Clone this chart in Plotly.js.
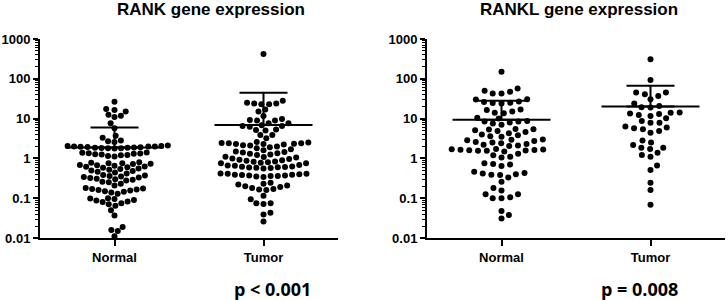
<!DOCTYPE html>
<html><head><meta charset="utf-8">
<script src="https://cdn.plot.ly/plotly-3.0.1.min.js"></script>
<style>html,body{margin:0;padding:0;background:#fff}#c{width:728px;height:300px}</style>
</head><body><div id="c"></div>
<script>
const categories = ['Normal', 'Tumor'];
const titles = ['RANK gene expression', 'RANKL gene expression'];
const pTexts = ['p < 0.001', 'p = 0.008'];
const yTickVals = [0.01, 0.1, 1, 10, 100, 1000];
const yTickText = ['0.01', '0.1', '1', '10', '100', '1000'];

const rankNormal = [26.5,17.5,16.5,15,12.5,11.8,11, 7.6,5.7, 3.7,3.3,2.8,2.7,2.6,2.1,
  2.05,2.05,2.0,2.0,1.98,1.95,1.92,1.9,1.88,1.85,1.85,1.82,1.8,1.8,1.78,
  1.4,1.38,1.35,1.32,1.3,1.28,1.25,1.22,1.2,1.15,1.12,
  0.8,0.78,0.76,0.75,0.73,0.72,
  0.68,0.67,0.65,0.63,0.62,0.6,0.58,0.56,0.54,0.52,0.5,0.48,0.46,0.44,0.42,
  0.38,0.37,0.36,0.35,0.34,0.33,0.32,0.31,0.3,0.29,0.28,0.26,0.25,0.23,0.21,
  0.18,0.175,0.17,0.165,0.16,0.155,0.15,0.145,0.14,0.13,
  0.1,0.098,0.095,0.09,0.087,0.083,0.08,0.075,0.07,
  0.065,0.05,0.037,0.019,0.016,0.015,0.011];
const rankTumor = [420, 28,25,24,24,23,23, 17,15, 11.6,9.8,9.2,9.0,8.9,
  7.6,7.6,6.8,6.5,6.5,6.2,5.3,5.2,5.0, 3.9,3.9,3.2,
  2.6,2.5,2.45,2.4,2.4,2.35,2.3,2.3,2.25,
  2.15,2.1,2.0,1.9,1.8,1.7,1.6,1.5,1.45,1.4,1.35,1.3,1.25,1.22,
  1.1,1.08,1.05,1.0,0.97,0.93,0.9,0.87,0.84,0.82,0.8,0.78,0.76,0.75,
  0.68,0.66,0.65,0.63,0.62,0.61,0.6,0.59,0.58,0.57,0.56,
  0.42,0.41,0.41,0.4,0.39,0.39,0.38,0.37,0.37,0.36,0.36,0.35,0.34,
  0.245,0.23,0.22,0.21,0.2,0.19,0.18,0.17,0.165,0.16,
  0.115, 0.094,0.075,0.072,0.075, 0.043,0.039, 0.026];
const ranklNormal = [151, 57,50,47,43,43, 30.6,30,27,26,25,24.5,24, 17,16.4,15,14,13.6,
  10.5,10,8.7,8.5,8.5,8,7.5,7,
  5.5,5.4,5.3,5.1,4.9,4.6,4.3,4.0,3.8,3.6,3.5,
  3.0,2.95,2.85,2.75,2.6,2.5,2.4,2.3,2.2,2.1,2.05,
  1.72,1.7,1.68,1.65,1.62,1.6,1.58,1.56,1.55,1.5,
  1.3,1.2,1.1,1.05, 0.75,0.72,0.7,0.64,
  0.46,0.43,0.42,0.4,0.39,0.38, 0.33,0.26,
  0.18,0.155,0.125,0.125,0.105,0.1,0.1, 0.048,0.038,0.031];
const ranklTumor = [309, 93, 45,41,37,45, 30.6,24, 19.2,19,20.7,
  13,11.6,12.4,13.5,14.3,14.1, 8.7,7.9,7.9,10.2,
  6.3,5.7,4.9,4.4,5.4,6.0, 2.8,2.17,2.5, 1.86,1.72,1.86,1.39,
  1.22,1.1, 0.66,0.51, 0.245,0.16, 0.068];

const rankMean = [1.88, 6.9];
const rankSD = [4.1, 38];
const ranklMean = [9.4, 20];
const ranklSD = [18.6, 47];

// ---- layout geometry ----
const W = 728, H = 300;
const xd1 = [40 / W, 338 / W], xd2 = [427 / W, 725 / W];
const yd = [62 / H, 261 / H];
const pxPerUnit = (xd1[1] - xd1[0]) * W / 2;
const pxPerDecade = (yd[1] - yd[0]) * H / 5;

// point-swarm layout: horizontal spacing Dx, vertical clearance Dy (pixels)
function swarm(vals, Dx, Dy) {
  const idx = vals.map((v, i) => i).sort((a, b) => vals[a] - vals[b]);
  const placed = [], xs = new Array(vals.length);
  let toggle = 1;
  for (const i of idx) {
    const y = Math.log10(vals[i]) * pxPerDecade;
    const near = placed.filter(p => Math.abs(p.y - y) < Dy);
    const cands = [0];
    for (const p of near) {
      const dx = Dx * Math.sqrt(1 - ((p.y - y) / Dy) ** 2);
      cands.push(p.x - dx, p.x + dx);
    }
    const ok = c => near.every(p => ((c - p.x) / Dx) ** 2 + ((p.y - y) / Dy) ** 2 >= 1 - 1e-6);
    let best = null;
    for (const c of cands) {
      if (!ok(c)) continue;
      if (best === null || Math.abs(c) < Math.abs(best) - 1e-6) best = c;
      else if (Math.abs(Math.abs(c) - Math.abs(best)) < 1e-6 && Math.sign(c) === toggle) best = c;
    }
    if (best !== 0) toggle = -Math.sign(best);
    placed.push({ x: best, y });
    xs[i] = best;
  }
  return xs;
}

function dots(vals, cat, Dx, Dy, xa, ya) {
  const off = swarm(vals, Dx, Dy);
  return {
    type: 'scatter', mode: 'markers', xaxis: xa, yaxis: ya,
    x: off.map(o => cat + o / pxPerUnit), y: vals,
    marker: { size: 6, color: '#000' }, hoverinfo: 'y', showlegend: false
  };
}
function meanBars(means, sds, xa, ya) {
  return {
    type: 'scatter', mode: 'markers', xaxis: xa, yaxis: ya,
    x: categories.map((c, i) => i), y: means,
    marker: { symbol: 'line-ew', size: 70, color: '#000', line: { width: 2, color: '#000' } },
    error_y: { type: 'data', symmetric: false, array: sds, arrayminus: means.map(() => 0),
      color: '#000', thickness: 2, width: 24 },
    showlegend: false, hoverinfo: 'y'
  };
}

const traces = [
  dots(rankNormal, 0, 6.5, 6.2, 'x', 'y'),
  dots(rankTumor, 1, 7.2, 6.2, 'x', 'y'),
  dots(ranklNormal, 0, 8.8, 6.5, 'x2', 'y2'),
  dots(ranklTumor, 1, 9, 6.5, 'x2', 'y2'),
  meanBars(rankMean, rankSD, 'x', 'y'),
  meanBars(ranklMean, ranklSD, 'x2', 'y2')
];

const minorVals = [];
for (let d = -2; d < 3; d++) for (let k = 2; k <= 9; k++) minorVals.push(k * Math.pow(10, d));

const tickFont = { family: 'Liberation Sans, Arial, sans-serif', size: 13, color: '#000', weight: 'bold' };
function xAxis(dom, anchor) {
  return { domain: dom, anchor: anchor, range: [-0.5, 1.5], tickmode: 'array', tickvals: [0, 1],
    ticktext: categories, showline: true, linewidth: 2, linecolor: '#000', ticks: 'outside',
    ticklen: 6, tickwidth: 2, tickcolor: '#000', showgrid: false, zeroline: false,
    tickfont: tickFont, fixedrange: true };
}
function yAxis(anchor) {
  return { domain: yd, anchor: anchor, type: 'log', range: [-2, 3], tickmode: 'array',
    tickvals: yTickVals, ticktext: yTickText, showline: true, linewidth: 2, linecolor: '#000',
    ticks: 'outside', ticklen: 5, tickwidth: 2, tickcolor: '#000', showgrid: false, zeroline: false,
    minor: { tickmode: 'array', tickvals: minorVals, ticks: 'outside', ticklen: 3, tickwidth: 1, tickcolor: '#000', showgrid: false },
    tickfont: tickFont, fixedrange: true };
}

const titleFont = { family: 'Liberation Sans, Arial, sans-serif', size: 17, color: '#000', weight: 'bold' };
const pFont = { family: 'Open Sans, sans-serif', size: 18, color: '#000', weight: 'bold' };
const layout = {
  width: W, height: H, margin: { l: 0, r: 0, t: 0, b: 0 },
  paper_bgcolor: '#fff', plot_bgcolor: '#fff', showlegend: false,
  xaxis: xAxis(xd1, 'y'), yaxis: yAxis('x'),
  xaxis2: xAxis(xd2, 'y2'), yaxis2: yAxis('x2'),
  annotations: [
    { text: titles[0], xref: 'paper', yref: 'paper', x: 211 / W, y: 1 - 10 / H, xanchor: 'center', yanchor: 'middle', showarrow: false, font: titleFont },
    { text: titles[1], xref: 'paper', yref: 'paper', x: 579 / W, y: 1 - 10 / H, xanchor: 'center', yanchor: 'middle', showarrow: false, font: titleFont },
    { text: pTexts[0], xref: 'paper', yref: 'paper', x: 272 / W, y: 1 - 289 / H, xanchor: 'center', yanchor: 'middle', showarrow: false, font: pFont },
    { text: pTexts[1], xref: 'paper', yref: 'paper', x: 639 / W, y: 1 - 289 / H, xanchor: 'center', yanchor: 'middle', showarrow: false, font: pFont }
  ]
};
Plotly.newPlot('c', traces, layout, { staticPlot: true, displayModeBar: false });
</script></body></html>
